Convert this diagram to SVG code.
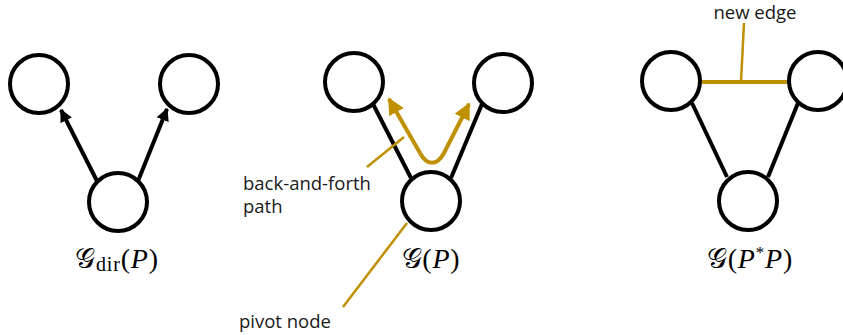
<svg xmlns="http://www.w3.org/2000/svg" width="843" height="335" viewBox="0 0 843 335">
<style>
.node{fill:#fff;stroke:#000;stroke-width:4}
.edge{stroke:#000;stroke-width:4;fill:none}
.gold{stroke:#BF9000;stroke-width:4;fill:none}
.thin{stroke:#BF9000;stroke-width:2.5;fill:none}
.lbl{font-family:"Open Sans","Noto Sans","DejaVu Sans",sans-serif;font-size:18.5px;fill:#1a1a1a}
.math{font-family:"Liberation Serif","DejaVu Serif",serif;font-size:28px;fill:#000;letter-spacing:0.8px}
.scr{font-family:"DejaVu Sans","DejaVu Serif","Noto Sans",serif;font-style:normal}
</style>
<defs>
<marker id="ab" viewBox="0 0 10 10" refX="9" refY="5" markerWidth="3.2" markerHeight="3.2" orient="auto" markerUnits="strokeWidth"><path d="M0,0 L10,5 L0,10 z" fill="#000"/></marker>
<marker id="ag" viewBox="0 0 10 10" refX="9" refY="5" markerWidth="4.2" markerHeight="4.2" orient="auto" markerUnits="strokeWidth"><path d="M0,0 L10,5 L0,10 z" fill="#BF9000"/></marker>
</defs>
<g id="connectors">
<line class="edge" x1="97" y1="181" x2="61" y2="110" marker-end="url(#ab)"/>
<line class="edge" x1="138" y1="181" x2="167" y2="109" marker-end="url(#ab)"/>
<line class="edge" x1="373" y1="104" x2="411" y2="178"/>
<line class="edge" x1="482" y1="104" x2="451" y2="178"/>
<path class="gold" d="M 420 153 C 427 166 437 166 444 153 L 469 104" marker-end="url(#ag)"/>
<path class="gold" d="M 420 153 L 389 99" marker-end="url(#ag)"/>
<line class="thin" x1="367" y1="167" x2="404" y2="137"/>
<line class="thin" x1="343" y1="307" x2="407" y2="223"/>
<line class="edge" x1="692" y1="103" x2="727" y2="177"/>
<line class="edge" x1="798" y1="103" x2="768" y2="177"/>
<line class="gold" x1="702" y1="82" x2="788" y2="82"/>
<line class="thin" x1="744" y1="23" x2="741" y2="82"/>
</g>
<g id="n1a"><circle class="node" cx="39" cy="84" r="29"/></g>
<g id="n1b"><circle class="node" cx="189" cy="84" r="29"/></g>
<g id="n1c"><circle class="node" cx="118" cy="202" r="29"/></g>
<g id="n2a"><circle class="node" cx="354" cy="82" r="29"/></g>
<g id="n2b"><circle class="node" cx="503" cy="83" r="29"/></g>
<g id="n2c"><circle class="node" cx="431" cy="201" r="29"/></g>
<g id="n3a"><circle class="node" cx="671" cy="81" r="29"/></g>
<g id="n3b"><circle class="node" cx="818" cy="81" r="29"/></g>
<g id="n3c"><circle class="node" cx="748" cy="201" r="29"/></g>
<g id="labels">
<text class="math" x="117" y="268" text-anchor="middle"><tspan class="scr">𝒢</tspan><tspan font-size="20" dy="3">dir</tspan><tspan dy="-3">(</tspan><tspan font-style="italic">P</tspan>)</text>
<text class="math" x="431" y="268" text-anchor="middle"><tspan class="scr">𝒢</tspan>(<tspan font-style="italic">P</tspan>)</text>
<text class="math" x="750" y="268" text-anchor="middle"><tspan class="scr">𝒢</tspan>(<tspan font-style="italic">P</tspan><tspan font-size="17" dy="-10">*</tspan><tspan font-style="italic" dy="10">P</tspan>)</text>
<text class="lbl" x="243" y="190">back-and-forth</text>
<text class="lbl" x="243" y="213">path</text>
<text class="lbl" x="239" y="328">pivot node</text>
<text class="lbl" x="755" y="19" text-anchor="middle">new edge</text>
</g>
</svg>
